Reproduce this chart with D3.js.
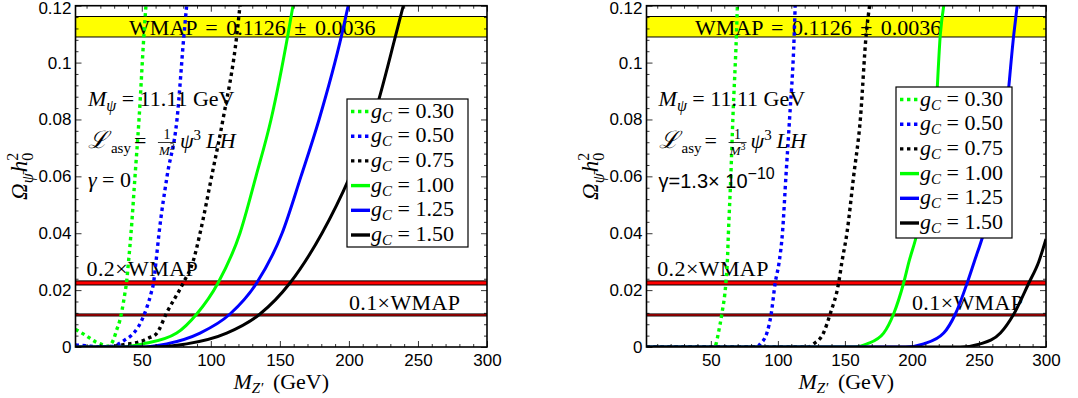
<!DOCTYPE html>
<html>
<head>
<meta charset="utf-8">
<script src="https://cdn.jsdelivr.net/npm/d3@7"></script>
<style>
  body { margin: 0; background: #fff; }
  svg text { font-family: "Liberation Serif", "Times New Roman", serif; fill: #000; }
  .tick text { font-family: "Liberation Sans", Arial, sans-serif; font-size: 17px; }
</style>
</head>
<body>
<svg id="chart" width="1078" height="398"></svg>
<script>
// ---- data ----
const couplings = ['0.30', '0.50', '0.75', '1.00', '1.25', '1.50'];
const seriesColours = ['#00ff00', '#0000ff', '#000000', '#00ff00', '#0000ff', '#000000'];
const seriesDotted = [true, true, true, false, false, false];

const wmapCentre = 0.1126;
const wmapError = 0.0036;
const bandFactors = [1, 0.2, 0.1];

const xMajorTicks = [50, 100, 150, 200, 250, 300];
const yMajorTicks = [0, 0.02, 0.04, 0.06, 0.08, 0.1, 0.12];

// left panel, gamma = 0   ([M_Z' in GeV, Omega h^2])
const leftG030 = [[2, 0.0062], [9, 0.0042], [17, 0.0017], [23, 0.0006], [25.8, 0.0003], [29.4, 0.0025], [31.8, 0.006], [34.2, 0.0095], [35.5, 0.0124], [37.8, 0.019], [38.9, 0.0225], [40.4, 0.03], [42.2, 0.04], [45.1, 0.06], [48, 0.08], [51.6, 0.11], [53, 0.12]];
const leftG050 = [[2, 0.0007], [10, 0.0004], [20, 0.0001], [28, 0.0002], [37.8, 0.0025], [42.7, 0.0042], [47.5, 0.0071], [51.1, 0.0106], [53.8, 0.0141], [56.7, 0.0188], [58.5, 0.0225], [60.3, 0.03], [62.5, 0.04], [68.3, 0.06], [75.5, 0.08], [80.6, 0.11], [82.5, 0.12]];
const leftG075 = [[20, 0], [30, 0.0003], [39.1, 0.001], [48.7, 0.0019], [54.7, 0.0031], [60.8, 0.0048], [68, 0.012], [80, 0.0225], [87.1, 0.03], [92.2, 0.04], [100.6, 0.06], [108.8, 0.08], [118.9, 0.11], [121.1, 0.12]];
const leftG100 = [[2, 0], [34.2, 0], [50.9, 0.0011], [75.3, 0.0049], [89.8, 0.0116], [105.2, 0.0225], [121.1, 0.04], [132.7, 0.06], [143.6, 0.08], [155.9, 0.11], [159.5, 0.12]];
const leftG125 = [[2, 0], [48.7, 0], [68, 0.0011], [92.2, 0.0049], [113.9, 0.0116], [133.2, 0.0225], [151.6, 0.04], [165.3, 0.06], [178.4, 0.08], [194.9, 0.11], [199.5, 0.12]];
const leftG150 = [[2, 0], [55.9, 0], [82.5, 0.0011], [111.5, 0.0049], [135.6, 0.0116], [157.3, 0.0225], [180.5, 0.04], [200.8, 0.06], [217.4, 0.08], [234.1, 0.11], [239.4, 0.12]];

// right panel, gamma = 1.3e-10
const rightG030 = [[2, 0], [52.4, 0], [53.9, 0.0011], [55.6, 0.0049], [58.2, 0.0116], [61.2, 0.0225], [62.3, 0.03], [63.1, 0.04], [64.9, 0.06], [66.4, 0.08], [69.1, 0.11], [69.8, 0.12]];
const rightG050 = [[2, 0], [84.5, 0], [86.8, 0.0011], [91.8, 0.0049], [95, 0.0116], [98, 0.0225], [101, 0.03], [103.4, 0.04], [106, 0.06], [108.7, 0.08], [112.2, 0.11], [112.9, 0.12]];
const rightG075 = [[2, 0], [122.6, 0], [126.6, 0.0011], [134, 0.0049], [139, 0.0116], [145.3, 0.0225], [147.8, 0.03], [151.5, 0.04], [156.5, 0.06], [161.5, 0.08], [165.9, 0.11], [168.4, 0.12]];
const rightG100 = [[2, 0], [157.7, 0], [166.5, 0.0011], [178.9, 0.0049], [186.3, 0.0116], [193.8, 0.0225], [197.8, 0.03], [203.8, 0.04], [211.3, 0.06], [217.5, 0.08], [221.2, 0.11], [223.7, 0.12]];
const rightG125 = [[2, 0], [195.1, 0], [208.7, 0.0011], [223.7, 0.0049], [232.4, 0.0116], [241.2, 0.0225], [246.5, 0.03], [253.5, 0.04], [263.6, 0.06], [269.8, 0.08], [276, 0.11], [278.5, 0.12]];
const rightG150 = [[2, 0], [236, 0], [251, 0.0011], [266, 0.0049], [276, 0.0116], [287.2, 0.0225], [294.6, 0.03], [300, 0.038]];

// ---- layout ----
const svg = d3.select('#chart');
const y = d3.scaleLinear().domain([0, 0.12]).range([347, 5.7]);

const panels = [
  {
    x: d3.scaleLinear().domain([2, 300]).range([75.5, 487]),
    series: [leftG030, leftG050, leftG075, leftG100, leftG125, leftG150],
    yLabelX: 27,
    legend: { left: 347, top: 99, width: 121, height: 148 },
    sansGamma: false
  },
  {
    x: d3.scaleLinear().domain([2, 300]).range([646.5, 1046]),
    series: [rightG030, rightG050, rightG075, rightG100, rightG125, rightG150],
    yLabelX: 598,
    legend: { left: 896, top: 87, width: 116, height: 151 },
    sansGamma: true
  }
];

const sans = '"Liberation Sans", Arial, sans-serif';

// text made of tspans; parts = [text, {i: italic, s: baseline shift, fs: size, ff: family, dx}]
function richText(g, x, y0, size, parts, anchor) {
  const t = g.append('text').attr('x', x).attr('y', y0)
    .attr('font-size', size).attr('text-anchor', anchor || 'start');
  let shift = 0;
  parts.forEach(([str, o = {}]) => {
    const s = t.append('tspan').text(str);
    const target = o.s || 0;
    if (target !== shift) s.attr('dy', target - shift);
    shift = target;
    if (o.dx) s.attr('dx', o.dx);
    if (o.i) s.attr('font-style', 'italic');
    if (o.fs) s.attr('font-size', o.fs);
    if (o.ff) s.style('font-family', o.ff);
  });
  return t;
}

const fmtY = d => d === 0 ? '0' : String(+d.toFixed(2));

panels.forEach((p, pi) => {
  const x = p.x;
  const [x0, x1] = x.range();
  const [yb, yt] = y.range();
  const g = svg.append('g');

  const clipId = 'clip' + pi;
  svg.append('clipPath').attr('id', clipId).append('rect')
    .attr('x', x0).attr('y', yt).attr('width', x1 - x0).attr('height', yb - yt);

  // WMAP bands
  bandFactors.forEach((f, i) => {
    const lo = f * (wmapCentre - wmapError);
    const hi = f * (wmapCentre + wmapError);
    g.append('rect')
      .attr('x', x0).attr('width', x1 - x0)
      .attr('y', y(hi)).attr('height', y(lo) - y(hi))
      .attr('fill', i === 0 ? '#ffff00' : '#ff0000');
    [lo, hi].forEach(v => {
      g.append('line').attr('x1', x0).attr('x2', x1)
        .attr('y1', y(v)).attr('y2', y(v))
        .attr('stroke', '#000').attr('stroke-width', 1);
    });
  });

  richText(g, x(130), 35, 22, [['WMAP = 0.1126 ± 0.0036']], 'middle').attr('word-spacing', 3);
  richText(g, x(10), 276, 22, [['0.2×WMAP']]).attr('letter-spacing', 0.4);
  richText(g, x(200), 310, 22, [['0.1×WMAP']]).attr('letter-spacing', 0.4);

  // curves
  const line = d3.line().x(d => x(d[0])).y(d => y(d[1])).curve(d3.curveMonotoneX);
  const curves = g.append('g').attr('clip-path', `url(#${clipId})`);
  p.series.forEach((data, i) => {
    curves.append('path')
      .attr('d', line(data))
      .attr('fill', 'none')
      .attr('stroke', seriesColours[i])
      .attr('stroke-width', seriesDotted[i] ? 3.4 : 3)
      .attr('stroke-dasharray', seriesDotted[i] ? '3.4,3.6' : null);
  });

  // annotations
  const tx = x(11);
  richText(g, tx, 106, 22, [['M', { i: true }], ['ψ', { i: true, s: 5, fs: 16 }], [' = 11.11 GeV', { s: 0 }]]);
  richText(g, tx, 148, 24, [['ℒ', { i: true }]]);
  richText(g, tx + 23, 153, 15, [['asy']]);
  richText(g, tx + 46, 148, 22, [['=']]);
  g.append('text').attr('x', tx + 79).attr('y', 139).attr('font-size', 14)
    .attr('text-anchor', 'middle').text('1');
  g.append('line').attr('x1', tx + 70).attr('x2', tx + 88).attr('y1', 142.5).attr('y2', 142.5)
    .attr('stroke', '#000').attr('stroke-width', 0.8);
  richText(g, tx + 79, 155, 13, [['M', { i: true }], ['3', { s: -5, fs: 10 }]], 'middle');
  richText(g, tx + 92, 148, 22, [['ψ', { i: true }], ['3', { s: -8, fs: 15 }]]);
  richText(g, tx + 118, 148, 22, [['LH', { i: true }]]).attr('letter-spacing', 1.5);

  if (p.sansGamma) {
    richText(g, tx, 188, 20, [['γ=1.3× 10', { ff: sans }], ['−10', { s: -9, fs: 16, ff: sans }]]);
  } else {
    richText(g, tx, 187, 22, [['γ', { i: true }], [' = 0']]);
  }

  // legend
  const L = p.legend;
  const lg = g.append('g');
  lg.append('rect').attr('x', L.left).attr('y', L.top).attr('width', L.width).attr('height', L.height)
    .attr('fill', '#fff').attr('stroke', '#000').attr('stroke-width', 1.2);
  couplings.forEach((c, i) => {
    const cy = L.top + 12.5 + i * 24.7;
    lg.append('line').attr('x1', L.left + 4).attr('x2', L.left + 23)
      .attr('y1', cy).attr('y2', cy)
      .attr('stroke', seriesColours[i])
      .attr('stroke-width', 3.4)
      .attr('stroke-dasharray', seriesDotted[i] ? '3.4,3.6' : null);
    richText(lg, L.left + 24, cy + 6, 22, [['g', { i: true }], ['C', { i: true, s: 4, fs: 15 }], [' = ' + c, { s: 0 }]]);
  });

  // axes (ticks pointing inward on all four sides)
  const xMinor = d3.range(10, 301, 10).filter(v => v % 50 !== 0);
  const yMinor = d3.range(0, 0.1201, 0.004).filter(v => Math.abs(v / 0.02 - Math.round(v / 0.02)) > 1e-6);

  const ax = g.append('g');
  ax.append('g').attr('transform', `translate(0,${yb})`)
    .call(d3.axisBottom(x).tickValues(xMajorTicks).tickSize(-6).tickPadding(7));
  ax.append('g').attr('transform', `translate(0,${yb})`)
    .call(d3.axisBottom(x).tickValues(xMinor).tickSize(-3).tickFormat(''));
  ax.append('g').attr('transform', `translate(0,${yt})`)
    .call(d3.axisTop(x).tickValues(xMajorTicks).tickSize(-6).tickFormat(''));
  ax.append('g').attr('transform', `translate(0,${yt})`)
    .call(d3.axisTop(x).tickValues(xMinor).tickSize(-3).tickFormat(''));
  const yAx = ax.append('g').attr('transform', `translate(${x0},0)`)
    .call(d3.axisLeft(y).tickValues(yMajorTicks).tickSize(-6).tickPadding(4).tickFormat(fmtY));
  // keep the top label inside the page
  yAx.selectAll('.tick text').filter(d => d === 0.12).attr('y', 2);
  ax.append('g').attr('transform', `translate(${x0},0)`)
    .call(d3.axisLeft(y).tickValues(yMinor).tickSize(-3).tickFormat(''));
  ax.append('g').attr('transform', `translate(${x1},0)`)
    .call(d3.axisRight(y).tickValues(yMajorTicks).tickSize(-6).tickFormat(''));
  ax.append('g').attr('transform', `translate(${x1},0)`)
    .call(d3.axisRight(y).tickValues(yMinor).tickSize(-3).tickFormat(''));
  ax.selectAll('.domain').remove();
  ax.selectAll('.tick line').attr('stroke', '#000').attr('stroke-width', 0.8);
  ax.selectAll('.tick text').attr('fill', '#000');

  g.append('rect').attr('x', x0).attr('y', yt).attr('width', x1 - x0).attr('height', yb - yt)
    .attr('fill', 'none').attr('stroke', '#000').attr('stroke-width', 1.6);

  // axis titles
  richText(g, (x0 + x1) / 2, 389, 22, [['M', { i: true }], ['Z′', { i: true, s: 4, fs: 15 }], [' (GeV)', { s: 0 }]], 'middle')
    .attr('word-spacing', 4);
  const yl = richText(g, 0, 0, 23, [['Ω', { i: true }], ['ψ̄', { i: true, s: 6, fs: 16 }], ['h', { i: true, s: 0, dx: 1 }],
    ['0', { s: 6, fs: 16 }], ['2', { s: -9, fs: 16, dx: -8 }]], 'middle');
  yl.attr('transform', `translate(${p.yLabelX},${(yb + yt) / 2}) rotate(-90)`);
});
</script>
</body>
</html>
